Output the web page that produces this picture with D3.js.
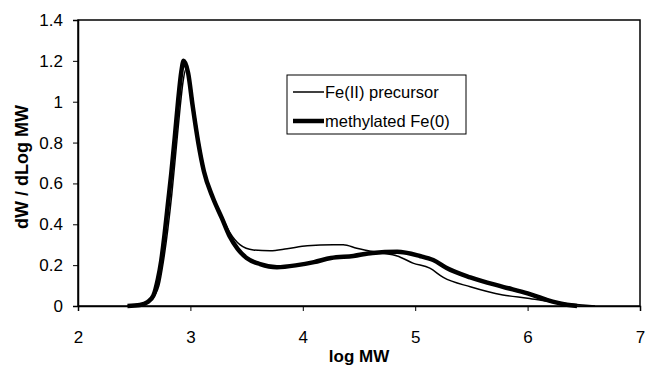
<!DOCTYPE html>
<html>
<head>
<meta charset="utf-8">
<script src="https://cdn.jsdelivr.net/npm/d3@7"></script>
<style>
    body { margin: 0; background: #fff; }
    text { font-family: "Liberation Sans", Arial, sans-serif; }
</style>
</head>
<body>
<div id="chart"></div>
<script>
// log MW / dW-dLogMW readings, methylated Fe(0) (thick line)
const methylX = [2.44, 2.55, 2.62, 2.67, 2.71, 2.74, 2.77, 2.80, 2.83, 2.86, 2.89, 2.92, 2.94,
    2.98, 3.02, 3.07, 3.12, 3.20, 3.28, 3.35, 3.42, 3.50, 3.62, 3.77, 3.95, 4.10, 4.25, 4.45, 4.62,
    4.84, 5.04, 5.16, 5.28, 5.49, 5.78, 6.00, 6.17, 6.35, 6.44];
const methylY = [0, 0.005, 0.02, 0.05, 0.13, 0.22, 0.35, 0.50, 0.65, 0.82, 1.00, 1.15, 1.20,
    1.14, 0.98, 0.80, 0.66, 0.53, 0.43, 0.34, 0.28, 0.235, 0.205, 0.19, 0.20, 0.215, 0.235, 0.245, 0.26,
    0.265, 0.245, 0.225, 0.186, 0.14, 0.094, 0.062, 0.03, 0.006, 0];

// Fe(II) precursor (thin line)
const precX = [2.44, 2.55, 2.65, 2.72, 2.76, 2.80, 2.835, 2.875, 2.91, 2.935, 2.96, 2.99, 3.03, 3.08, 3.13,
    3.20, 3.27, 3.35, 3.44, 3.56, 3.71, 3.86, 4.04, 4.27, 4.36, 4.48, 4.69, 4.84, 4.98, 5.13, 5.25,
    5.49, 5.78, 6.00, 6.22, 6.49, 6.60];
const precY = [0, 0.005, 0.03, 0.10, 0.22, 0.38, 0.55, 0.78, 0.98, 1.10, 1.16, 1.12, 0.97, 0.79, 0.65,
    0.53, 0.45, 0.36, 0.30, 0.274, 0.27, 0.28, 0.295, 0.30, 0.30, 0.283, 0.26, 0.245, 0.21, 0.185, 0.14,
    0.094, 0.054, 0.038, 0.02, 0.005, 0];

const xTicks = [2, 3, 4, 5, 6, 7];
const yTicks = [0, 0.2, 0.4, 0.6, 0.8, 1, 1.2, 1.4];

const width = 646, height = 366;
const margin = { top: 20, right: 6, bottom: 60, left: 78 };
const innerW = width - margin.left - margin.right;
const innerH = height - margin.top - margin.bottom;

const svg = d3.select("#chart").append("svg")
    .attr("width", width)
    .attr("height", height);

const g = svg.append("g")
    .attr("transform", `translate(${margin.left},${margin.top})`);

const x = d3.scaleLinear().domain([2, 7]).range([0, innerW]);
const y = d3.scaleLinear().domain([0, 1.4]).range([innerH, 0]);

// frame (top and right edges)
g.append("rect")
    .attr("width", innerW)
    .attr("height", innerH)
    .attr("fill", "none")
    .attr("stroke", "#000")
    .attr("stroke-width", 1.5);

const xAxis = g.append("g")
    .attr("transform", `translate(0,${innerH})`)
    .call(d3.axisBottom(x).tickValues(xTicks).tickFormat(d3.format("d")).tickSize(5).tickPadding(20));

const yAxis = g.append("g")
    .call(d3.axisLeft(y).tickValues(yTicks).tickFormat(d => d === 0 || d === 1 ? d : d3.format(".1f")(d))
        .tickSize(5).tickPadding(10));

[xAxis, yAxis].forEach(ax => {
    ax.select(".domain").attr("stroke-width", 1.5);
    ax.selectAll(".tick line").attr("stroke-width", 1);
    ax.selectAll("text").attr("font-size", 17).attr("fill", "#000");
});
xAxis.selectAll("text").attr("dy", "0.71em");

const line = d3.line()
    .x(d => x(d[0]))
    .y(d => y(d[1]))
    .curve(d3.curveMonotoneX);

const methyl = methylX.map((v, i) => [v, methylY[i]]);
const prec = precX.map((v, i) => [v, precY[i]]);

g.append("path")
    .datum(methyl)
    .attr("fill", "none")
    .attr("stroke", "#000")
    .attr("stroke-width", 4.5)
    .attr("d", line);

// thin line drawn on top so it stays visible where the two overlap
g.append("path")
    .datum(prec)
    .attr("fill", "none")
    .attr("stroke", "#000")
    .attr("stroke-width", 1.5)
    .attr("d", line);

// axis titles
svg.append("text")
    .attr("x", margin.left + innerW / 2)
    .attr("y", 362)
    .attr("text-anchor", "middle")
    .attr("font-size", 17)
    .attr("font-weight", "bold")
    .text("log MW");

svg.append("text")
    .attr("transform", `translate(28,${margin.top + innerH / 2 + 4}) rotate(-90)`)
    .attr("text-anchor", "middle")
    .attr("font-size", 18)
    .attr("font-weight", "bold")
    .text("dW / dLog MW");

// legend
const legend = svg.append("g").attr("transform", "translate(287,75)");
legend.append("rect")
    .attr("width", 179)
    .attr("height", 59)
    .attr("fill", "#fff")
    .attr("stroke", "#000")
    .attr("stroke-width", 1);

const legendItems = [
    { name: "Fe(II) precursor", w: 1.5 },
    { name: "methylated Fe(0)", w: 4.5 }
];
legendItems.forEach((d, i) => {
    const yy = 17 + i * 29;
    legend.append("line")
        .attr("x1", 6).attr("x2", 37)
        .attr("y1", yy).attr("y2", yy)
        .attr("stroke", "#000")
        .attr("stroke-width", d.w);
    legend.append("text")
        .attr("x", 38)
        .attr("y", yy)
        .attr("dy", "0.35em")
        .attr("font-size", 16.5)
        .text(d.name);
});
</script>
</body>
</html>
